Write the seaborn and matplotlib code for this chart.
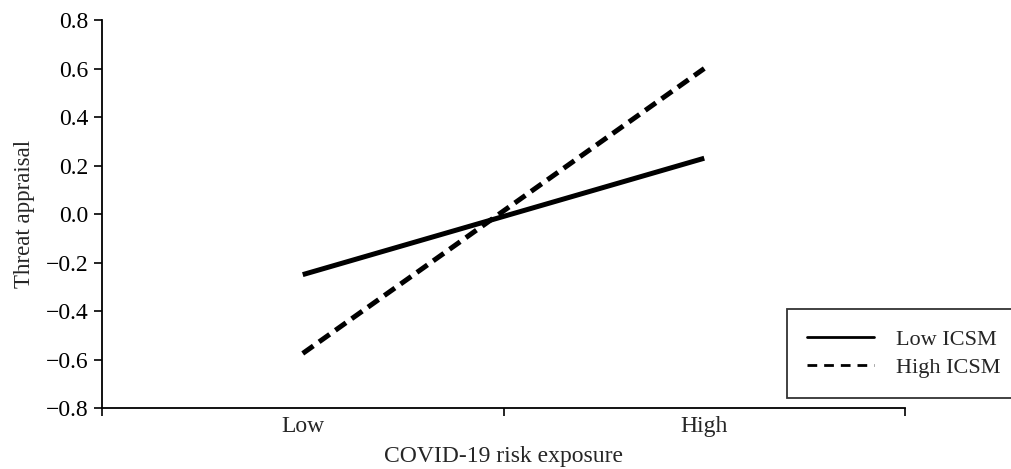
import numpy as np
import pandas as pd
import matplotlib.pyplot as plt
import seaborn as sns
from matplotlib.lines import Line2D

# exposure levels on the x axis and simple slopes for each moderator level
exposure = ['Low', 'High']
low_icsm = [-0.25, 0.23]
high_icsm = [-0.575, 0.6]
groups = ['Low ICSM', 'High ICSM']

df = pd.DataFrame({
    'x': [0, 1, 0, 1],
    'y': low_icsm + high_icsm,
    'group': [groups[0]] * 2 + [groups[1]] * 2,
})

sns.set_style('ticks')
plt.rcParams['font.family'] = ['Liberation Serif', 'DejaVu Serif']
plt.rcParams['axes.unicode_minus'] = True

fig = plt.figure(figsize=(10.11, 4.69), dpi=100)
ax = fig.add_axes([102 / 1011, 1 - 408 / 469, (905 - 102) / 1011, (408 - 20) / 469])

sns.lineplot(data=df, x='x', y='y', style='group', style_order=groups,
             dashes={groups[0]: '', groups[1]: (2.6, 1.4)},
             color='black', linewidth=3.6, legend=False, ax=ax)
for ln in ax.get_lines():
    ln.set_solid_capstyle('butt')
    ln.set_dash_capstyle('butt')

ax.set_xlim(-0.5, 1.5)
ax.set_ylim(-0.8, 0.8)
ax.set_yticks(np.arange(-0.8, 0.81, 0.2))
ax.set_xticks([-0.5, 0.5, 1.5])
ax.set_xticklabels([])
ax.set_xticks([0, 1], minor=True)
ax.set_xticklabels(exposure, minor=True)
ax.tick_params(axis='x', which='minor', length=0, pad=6)
ax.tick_params(axis='both', which='major', length=6, width=1.2, colors='black', labelsize=17)
ax.tick_params(axis='x', which='minor', labelsize=17)

for side in ['top', 'right']:
    ax.spines[side].set_visible(False)
for side in ['left', 'bottom']:
    ax.spines[side].set_linewidth(1.3)
    ax.spines[side].set_color('black')

ax.set_xlabel('COVID-19 risk exposure', fontsize=17, labelpad=6)
ax.set_ylabel('Threat appraisal', fontsize=16.5, labelpad=8)

handles = [Line2D([], [], color='black', linewidth=2),
           Line2D([], [], color='black', linewidth=2, linestyle=(0, (3.5, 2.5)))]
leg = fig.legend(handles, groups, loc='upper left',
                 bbox_to_anchor=(787 / 1011, 1 - 309 / 469),
                 frameon=True, fancybox=False, fontsize=16,
                 handlelength=3.0, handletextpad=1.0,
                 borderpad=0.9, labelspacing=0.35, borderaxespad=0)
leg.get_frame().set_edgecolor('black')
leg.get_frame().set_linewidth(1.3)

fig.savefig('out.png', dpi=100)
